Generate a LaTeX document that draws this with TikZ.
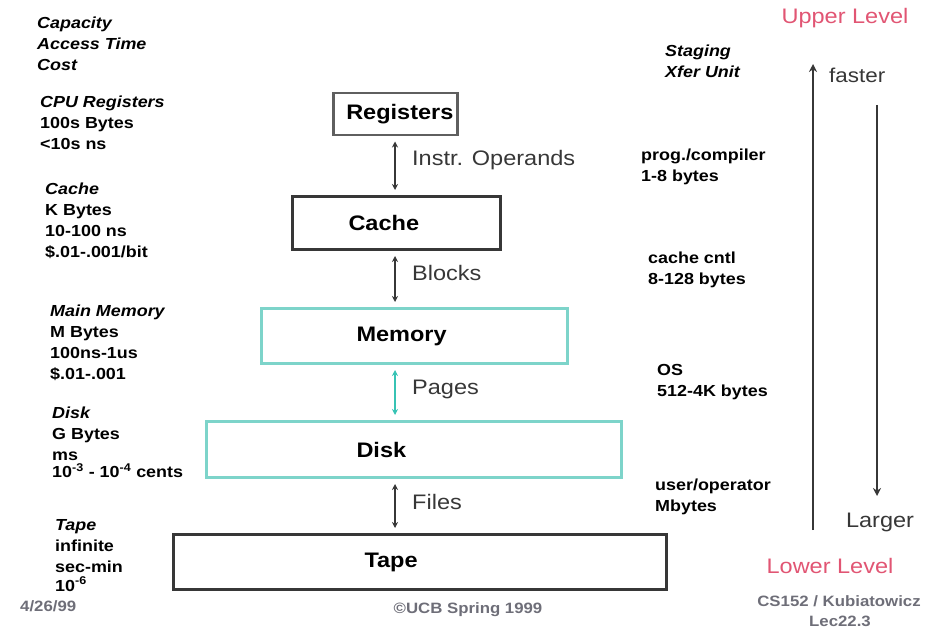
\documentclass[tikz,border=0pt]{standalone}
\usepackage{fontspec}
\setmainfont{Liberation Sans}[FakeStretch=1.12]
\usepackage{tikz}
\usetikzlibrary{arrows.meta}
\definecolor{inkgray}{RGB}{55,55,55}
\definecolor{regedge}{RGB}{95,95,95}
\definecolor{levelcyan}{RGB}{125,212,202}
\definecolor{pagecyan}{RGB}{55,195,180}
\definecolor{levelpink}{RGB}{225,85,115}
\definecolor{footgray}{RGB}{110,110,120}
\newcommand{\smalltxt}{\fontsize{16}{21}\selectfont\bfseries}
\newcommand{\boxtxt}{\fontsize{21}{24}\selectfont\bfseries}
\newcommand{\armtxt}{\fontsize{21}{24}\selectfont}
\newcommand{\hdr}[1]{\textit{#1}}

\begin{document}
\begin{tikzpicture}[x=1pt,y=-1pt,
    datablk/.style={font=\smalltxt, align=left, anchor=north west, inner sep=0pt},
    lvlbox/.style={draw=inkgray, line width=3pt, anchor=north west, inner sep=0pt, font=\boxtxt, align=left},
    cyanbox/.style={lvlbox, draw=levelcyan},
    xfer/.style={inkgray, line width=2pt, {Stealth[length=6pt,width=6pt]}-{Stealth[length=6pt,width=6pt]}, shorten <=5pt, shorten >=5pt},
    armlbl/.style={font=\armtxt, text=inkgray, anchor=west, inner sep=0pt},
    foot/.style={font=\fontsize{15}{18}\selectfont\bfseries, text=footgray, inner sep=0pt}]
    \useasboundingbox (0,0) rectangle (942,631);

    % Left column: capacity, access time, cost
    \node[datablk] (capcost) at (37,17) {\hdr{Capacity}\\\hdr{Access Time}\\\hdr{Cost}};
    \node[datablk] (regdata) at (40,96) {\hdr{CPU Registers}\\100s Bytes\\<10s ns};
    \node[datablk] (cachedata) at (45,183) {\hdr{Cache}\\K Bytes\\10-100 ns\\\$.01-.001/bit};
    \node[datablk] (memdata) at (50,305) {\hdr{Main Memory}\\M Bytes\\100ns-1us\\\$.01-.001};
    \node[datablk] (diskdata) at (52,407) {\hdr{Disk}\\G Bytes\\ms\\[-4pt]10\textsuperscript{-3} - 10\textsuperscript{-4} cents};
    \node[datablk] (tapedata) at (55,519) {\hdr{Tape}\\infinite\\sec-min\\[-2pt]10\textsuperscript{-6}};

    % Levels
    \node[lvlbox, draw=regedge, line width=2.5pt, text width=124pt, minimum height=42pt] (reg) at (332,92) {\hspace*{13pt}Registers};
    \node[lvlbox, text width=208pt, minimum height=53pt] (cache) at (291,195) {\hspace*{56pt}Cache};
    \node[cyanbox, text width=306pt, minimum height=55pt] (mem) at (260,307) {\hspace*{95pt}Memory};
    \node[cyanbox, text width=415pt, minimum height=56pt] (disk) at (205,420) {\hspace*{150pt}Disk};
    \node[lvlbox, text width=493pt, minimum height=55pt] (tape) at (172,533) {\hspace*{191pt}Tape};

    % Transfers between levels
    \coordinate (axis) at (395,0);
    \draw[xfer] (axis |- reg.south) -- (axis |- cache.north);
    \draw[xfer] (axis |- cache.south) -- (axis |- mem.north);
    \draw[xfer, pagecyan] (axis |- mem.south) -- (axis |- disk.north);
    \draw[xfer] (axis |- disk.south) -- (axis |- tape.north);
    \node[armlbl] (lblops) at (412,160) {Instr. Operands};
    \node[armlbl] (lblblocks) at (412,273) {Blocks};
    \node[armlbl] (lblpages) at (412,389) {Pages};
    \node[armlbl] (lblfiles) at (412,502) {Files};

    % Right column: staging / transfer unit
    \node[datablk] (stgunit) at (665,45) {\hdr{Staging}\\\hdr{Xfer Unit}};
    \node[datablk] (progunit) at (641,149) {prog./compiler\\1-8 bytes};
    \node[datablk] (cacheunit) at (648,252) {cache cntl\\8-128 bytes};
    \node[datablk] (osunit) at (657,364) {OS\\512-4K bytes};
    \node[datablk] (userunit) at (655,479) {user/operator\\Mbytes};

    % Speed and size arrows
    \node[font=\armtxt, text=levelpink, inner sep=0pt] (upper) at (845,18) {Upper Level};
    \node[font=\armtxt, text=levelpink, inner sep=0pt] (lower) at (830,566) {Lower Level};
    \coordinate (fastlo) at (813,530);
    \coordinate (fasthi) at (813,64);
    \coordinate (largehi) at (877,105);
    \coordinate (largelo) at (877,496);
    \draw[inkgray, line width=2.5pt, -{Stealth[length=8pt,width=8pt]}] (fastlo) -- (fasthi);
    \draw[inkgray, line width=2.5pt, -{Stealth[length=8pt,width=8pt]}] (largehi) -- (largelo);
    \node[armlbl, font=\fontsize{20}{24}\selectfont] (faster) at (829,75) {faster};
    \node[font=\armtxt, text=inkgray, inner sep=0pt] (larger) at (880,522) {Larger};

    % Footer
    \node[foot, anchor=west] (date) at (20,606) {4/26/99};
    \node[foot] (ucb) at (468,610) {\textcopyright UCB Spring 1999};
    \node[foot] (course) at (839,601) {CS152 / Kubiatowicz};
    \node[foot] (lec) at (840,621) {Lec22.3};
\end{tikzpicture}
\end{document}
